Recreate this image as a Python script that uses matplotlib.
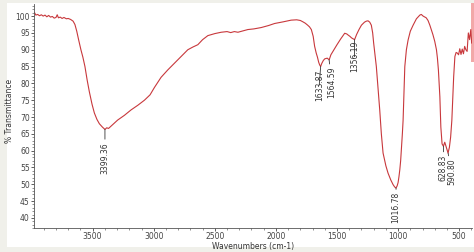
import matplotlib.pyplot as plt
from matplotlib.patches import Rectangle
from matplotlib.ticker import MultipleLocator

# FTIR spectrum (wavenumber cm-1, % transmittance)
wavenumber = [4000, 3985, 3975, 3965, 3950, 3935, 3920, 3905, 3890, 3875,
              3860, 3845, 3830, 3815, 3800, 3790, 3780, 3765, 3750, 3735,
              3715, 3700, 3680, 3660, 3645, 3630, 3615, 3596, 3580, 3563,
              3545, 3527, 3505, 3486, 3465, 3445, 3420, 3399, 3385, 3370,
              3340, 3295, 3240, 3186, 3130, 3076, 3030, 2994, 2967, 2940,
              2885, 2830, 2775, 2721, 2680, 2639, 2600, 2557, 2500, 2448,
              2400, 2370, 2340, 2311, 2270, 2230, 2180, 2120, 2060, 2011,
              1940, 1875, 1830, 1800, 1779, 1760, 1740, 1725, 1710, 1695,
              1683, 1670, 1660, 1650, 1642, 1634, 1625, 1612, 1600, 1580,
              1564, 1550, 1525, 1500, 1470, 1437, 1420, 1410, 1395, 1380,
              1356, 1340, 1320, 1300, 1275, 1260, 1246, 1232, 1219, 1208,
              1200, 1190, 1178, 1165, 1150, 1137, 1123, 1100, 1082, 1060,
              1041, 1028, 1017, 1008, 1000, 993, 986, 979, 972, 965,
              959, 952, 945, 932, 918, 900, 877, 850, 822, 810,
              795, 770, 755, 740, 715, 700, 686, 678, 670, 664,
              658, 650, 640, 629, 618, 605, 591, 580, 570, 560,
              553, 545, 535, 525, 515, 505, 495, 485, 475, 465,
              455, 445, 435, 425, 415, 405, 398]
transmittance = [101.0, 100.6, 101.0, 100.3, 100.5, 100.1, 100.4, 100.0, 100.3, 99.8,
                 100.2, 99.7, 99.9, 99.4, 99.6, 100.4, 99.5, 99.7, 99.3, 99.6,
                 99.2, 99.3, 99.0, 98.5, 97.5, 95.5, 93.0, 90.0, 87.8, 85.0,
                 81.0, 77.5, 73.8, 71.2, 69.3, 68.0, 67.0, 66.3, 66.8, 66.6,
                 67.6, 69.1, 70.5, 72.1, 73.5, 75.0, 76.6, 78.8, 80.3, 81.8,
                 84.0, 86.0, 88.0, 90.0, 90.8, 91.5, 93.0, 94.2, 94.8, 95.2,
                 95.4, 95.1, 95.4, 95.2, 95.6, 96.0, 96.2, 96.6, 97.2, 97.8,
                 98.3, 98.8, 98.9, 98.7, 98.3, 97.9, 97.3, 96.8, 96.0, 94.0,
                 91.0, 89.0, 87.8, 86.3, 85.5, 85.0, 85.9, 86.8, 87.3, 87.5,
                 87.0, 88.5, 90.0, 91.5, 93.2, 94.9, 94.7, 94.4, 94.0, 93.5,
                 93.0, 94.5, 96.0, 97.3, 98.2, 98.5, 98.6, 98.2, 97.3, 95.0,
                 92.0, 88.8, 85.0, 79.0, 72.0, 65.0, 59.3, 55.5, 53.3, 51.3,
                 49.9, 49.2, 48.9, 49.5, 50.5, 52.2, 54.3, 57.0, 61.0, 65.0,
                 69.0, 77.0, 85.0, 90.0, 92.9, 95.5, 97.3, 99.2, 100.3, 100.5,
                 100.0, 99.5, 98.7, 97.3, 94.5, 92.5, 90.0, 87.5, 84.0, 80.0,
                 76.0, 67.0, 62.0, 61.3, 62.5, 61.0, 59.3, 61.0, 64.0, 69.0,
                 75.0, 82.0, 88.0, 89.2, 89.0, 88.5, 90.3, 88.6, 90.2, 88.8,
                 91.0, 90.0, 89.5, 95.0, 93.0, 96.0, 92.0]

# labelled peaks: wavenumber, text, text offset (points) below the curve
peak_wn = [3399.36, 1633.87, 1564.59, 1356.19, 1016.78, 628.83, 590.80]
peak_val = [66.3, 85.0, 87.0, 93.0, 48.9, 61.3, 59.3]
peak_labels = ['3399.36', '1633.87', '1564.59', '1356.19', '1016.78', '628.83', '590.80']
peak_drop = [9, 2, 5, 1, 3, 6, 4]
peak_dx = [0, -1, 2, 0, 0, 0, 2.5]

line_color = '#c8383c'
text_color = '#333333'
fs = 5.5

fig = plt.figure(figsize=(4.74, 2.52), dpi=100)
fig.patch.set_facecolor('#f0f0ea')
fig.patches.append(Rectangle((7 / 474, 5 / 252), 1 - 7 / 474, 244 / 252,
                             transform=fig.transFigure, facecolor='white',
                             edgecolor='none', zorder=-10))
fig.patches.append(Rectangle((471 / 474, 190 / 252), 3 / 474, 59 / 252,
                             transform=fig.transFigure, facecolor='#f2a8a8',
                             edgecolor='none', zorder=-9))

ax = fig.add_axes([34 / 474, 24 / 252, 438 / 474, 224 / 252])
ax.set_facecolor('none')
ax.plot(wavenumber, transmittance, color=line_color, lw=0.8)

for wn, val, lab, drop, dx in zip(peak_wn, peak_val, peak_labels, peak_drop, peak_dx):
    ax.annotate(lab, xy=(wn, val), xytext=(dx, -drop), textcoords='offset points',
                rotation=90, ha='center', va='top', fontsize=fs, color=text_color,
                arrowprops=dict(arrowstyle='-', lw=0.6, color='#333333',
                                shrinkA=0, shrinkB=0))

ax.set_xlim(3980, 395)
ax.set_ylim(37.0, 103.6)
ax.xaxis.set_major_locator(MultipleLocator(500))
ax.xaxis.set_minor_locator(MultipleLocator(100))
ax.yaxis.set_major_locator(MultipleLocator(5))
ax.yaxis.set_minor_locator(MultipleLocator(1))
ax.tick_params(which='major', length=2, width=0.6, labelsize=fs,
               colors='#444444', pad=1)
ax.tick_params(which='minor', length=1.2, width=0.5, colors='#666666')

for side in ['top', 'right']:
    ax.spines[side].set_visible(False)
for side in ['left', 'bottom']:
    ax.spines[side].set_color('#555555')
    ax.spines[side].set_linewidth(0.6)

fig.text(253 / 474, 0.022, 'Wavenumbers (cm-1)', ha='center', va='center',
         fontsize=fs, color=text_color)
fig.text(0.02, 0.56, '% Transmittance', ha='center', va='center',
         rotation=90, fontsize=fs, color=text_color)

fig.savefig('out.png', dpi=100, facecolor=fig.get_facecolor())
